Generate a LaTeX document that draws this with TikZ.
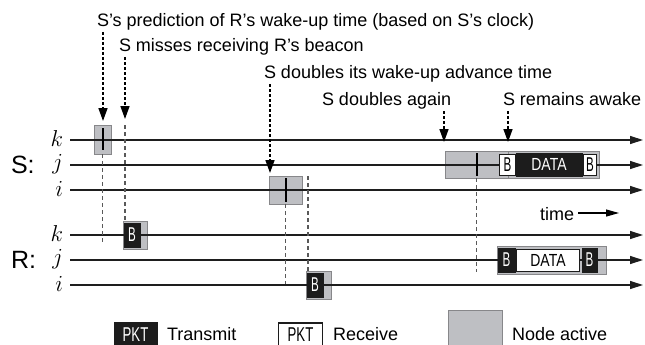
\RequirePackage{fix-cm}
\documentclass[tikz,border=0pt]{standalone}
\usepackage{fontspec}
\setmainfont{Liberation Sans}
\usetikzlibrary{arrows.meta}
\definecolor{actgray}{RGB}{190,191,195}
\definecolor{actedge}{RGB}{135,135,138}
\definecolor{pktblack}{RGB}{28,28,28}
\definecolor{axisc}{RGB}{30,30,30}
\newcommand{\cnd}[1]{\scalebox{0.58}[1]{#1}}
\newcommand{\cndd}[1]{\scalebox{0.8}[1]{#1}}
\begin{document}
\begin{tikzpicture}[x=1pt,y=-1pt,
  every node/.style={inner sep=0pt,outer sep=0pt},
  lbl/.style={font=\fontsize{18}{20}\selectfont,anchor=base west},
  big/.style={font=\fontsize{25}{27}\selectfont,anchor=west},
  lvl/.style={font=\fontsize{23}{25}\selectfont,anchor=east},
  axis/.style={line width=1.2pt,draw=axisc,-{Triangle[length=13pt,width=8pt]}},
  note/.style={line width=1.5pt,dash pattern=on 3pt off 2pt,-{Triangle[length=13pt,width=9pt]}},
  guide/.style={line width=1.1pt,draw=black!65,dash pattern=on 4pt off 3pt},
  active/.style={fill=actgray,draw=actedge,line width=0.8pt,anchor=north west},
  tx/.style={fill=pktblack,draw=pktblack,text=white,anchor=north west,font=\fontsize{20}{20}\selectfont},
  rx/.style={fill=white,draw=pktblack,line width=1.1pt,text=black,anchor=north west,font=\fontsize{20}{20}\selectfont},
  dtx/.style={font=\fontsize{17.5}{17.5}\selectfont},
  tickmark/.style={line width=2pt,draw=black}
]
\useasboundingbox (0,0) rectangle (645,345);

% ---- active periods
\node[active,minimum width=17pt,minimum height=29pt] (actSk) at (94,125) {};
\node[active,minimum width=33pt,minimum height=28pt] (actSi) at (269,176) {};
\node[active,minimum width=63pt,minimum height=27pt] (actSjA) at (445,151) {};
\node[active,minimum width=91pt,minimum height=27pt] (actSjB) at (508,151) {};
\node[active,minimum width=24pt,minimum height=28pt] (actRk) at (123,221) {};
\node[active,minimum width=25pt,minimum height=28pt] (actRi) at (306,271) {};
\node[active,minimum width=109pt,minimum height=28pt] (actRj) at (497,246) {};

% ---- time lines
\coordinate (sk0) at (70,140); \coordinate (sk1) at (643,140);
\coordinate (sj0) at (70,165); \coordinate (sj1) at (643,165);
\coordinate (si0) at (70,190); \coordinate (si1) at (643,190);
\coordinate (rk0) at (70,235); \coordinate (rk1) at (643,235);
\coordinate (rj0) at (70,260); \coordinate (rj1) at (643,260);
\coordinate (ri0) at (70,285); \coordinate (ri1) at (643,285);
\draw[axis] (sk0) -- (sk1);
\draw[axis] (sj0) -- (sj1);
\draw[axis] (si0) -- (si1);
\draw[axis] (rk0) -- (rk1);
\draw[axis] (rj0) -- (rj1);
\draw[axis] (ri0) -- (ri1);

% ---- level labels
\node[big] (labS) at (11,165) {S:};
\node[big] (labR) at (11,260) {R:};
\node[lvl] (lSk) at (63,139) {$k$};
\node[lvl] (lSj) at (63,164) {$j$};
\node[lvl] (lSi) at (63,189) {$i$};
\node[lvl] (lRk) at (63,234) {$k$};
\node[lvl] (lRj) at (63,259) {$j$};
\node[lvl] (lRi) at (63,284) {$i$};

% ---- predicted wake-up ticks
\draw[tickmark] ([yshift=-3pt]actSk.north) -- ([yshift=4pt]actSk.south);
\draw[tickmark] ([yshift=-2pt]actSi.north) -- ([yshift=2pt]actSi.south);
\draw[tickmark] ([yshift=-2pt]actSjA.north) -- ([yshift=2pt]actSjA.south);

% ---- guide lines
\coordinate (g1e) at (102.5,243);
\draw[guide] (actSk.south) -- (g1e);
\coordinate (g2s) at (125,125);
\draw[guide] (g2s) -- (g2s |- actRk.north);
\coordinate (g3e) at (285.5,284);
\draw[guide] (actSi.south) -- (g3e);
\coordinate (g4s) at (308,176);
\draw[guide] (g4s) -- (g4s |- actRi.north);
\coordinate (g5e) at (476.5,272);
\draw[guide] (actSjA.south) -- (g5e);

% ---- packets
\node[tx,minimum width=16pt,minimum height=24pt] (bRk) at (124,223) {\cnd{B}};
\node[tx,minimum width=16pt,minimum height=24pt] (bRi) at (307,273) {\cnd{B}};
\node[rx,minimum width=16pt,minimum height=21pt] (bSj1) at (499.5,154.5) {\cnd{B}};
\node[tx,dtx,minimum width=66pt,minimum height=23pt] (dSj) at (516,153) {\cndd{DATA}};
\node[rx,minimum width=13pt,minimum height=21pt] (bSj2) at (583.5,154.5) {\cnd{B}};
\node[tx,minimum width=17pt,minimum height=24pt] (bRj1) at (498,248) {\cnd{B}};
\node[rx,dtx,minimum width=63pt,minimum height=22pt] (dRj) at (516.5,249.5) {\cndd{DATA}};
\node[tx,minimum width=15pt,minimum height=24pt] (bRj2) at (582,248) {\cnd{B}};

% ---- annotations
\node[lbl] (t1) at (97,27) {S’s prediction of R’s wake-up time (based on S’s clock)};
\node[lbl] (t2) at (119,52) {S misses receiving R’s beacon};
\node[lbl] (t3) at (264,78) {S doubles its wake-up advance time};
\node[lbl] (t4) at (322,105) {S doubles again};
\node[lbl] (t5) at (503,105) {S remains awake};
\coordinate (n1s) at (103,32);  \coordinate (n1e) at (103,121);
\coordinate (n2s) at (125,57);  \coordinate (n2e) at (125,119);
\coordinate (n3s) at (270,84);  \coordinate (n3e) at (270,173);
\coordinate (n4s) at (444,111); \coordinate (n4e) at (444,142);
\coordinate (n5s) at (508,111); \coordinate (n5e) at (508,142);
\draw[note] (n1s) -- (n1e);
\draw[note] (n2s) -- (n2e);
\draw[note] (n3s) -- (n3e);
\draw[note] (n4s) -- (n4e);
\draw[note] (n5s) -- (n5e);

% ---- time arrow
\node[lbl] (timeL) at (540,220) {time};
\coordinate (ta0) at (578,213); \coordinate (ta1) at (619,213);
\draw[line width=1.2pt,-{Triangle[length=13pt,width=7pt]}] (ta0) -- (ta1);

% ---- legend
\node[tx,minimum width=43pt,minimum height=25pt,font=\fontsize{20}{20}\selectfont] (lgT) at (114,322) {\scalebox{0.66}[1]{PKT}};
\node[lbl] (lgTt) at (167,340.5) {Transmit};
\node[rx,minimum width=44pt,minimum height=24pt,font=\fontsize{20}{20}\selectfont] (lgR) at (278.5,323) {\scalebox{0.66}[1]{PKT}};
\node[lbl] (lgRt) at (333,340.5) {Receive};
\node[active,minimum width=54pt,minimum height=37pt] (lgA) at (448,310) {};
\node[lbl] (lgAt) at (512,340.5) {Node active};
\end{tikzpicture}
\end{document}
